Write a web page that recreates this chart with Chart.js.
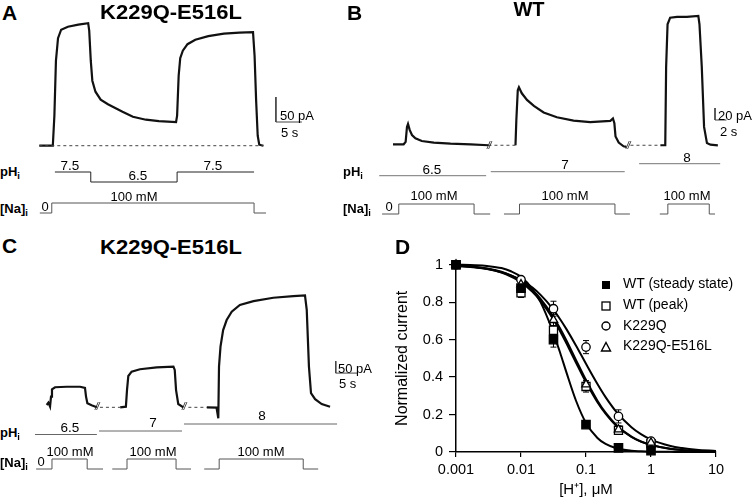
<!DOCTYPE html>
<html lang="en">
<head>
<meta charset="UTF-8">
<title>Na+ currents and intracellular pH dependence</title>
<script src="https://cdn.jsdelivr.net/npm/chart.js"></script>
<style>
  html, body { margin: 0; padding: 0; background: #fff; }
  #fig { position: relative; width: 754px; height: 499px; overflow: hidden;
         font-family: "Liberation Sans", Arial, sans-serif; color: #000; }
  #fig canvas { position: absolute; }
  .t { position: absolute; white-space: nowrap; line-height: 1; }
  .b { font-weight: bold; }
  .sub { font-size: 0.72em; position: relative; top: 0.3em; }
  .brk { font-style: italic; letter-spacing: -1px; color: #222; }
</style>
</head>
<body>
<div id="fig"></div>

<script>
  // ---- panel A: K229Q-E516L, pHi 7.5 -> 6.5 -> 7.5 (time s, current pA)
  const traceA = [[0,0],[2.6,0],[2.9,60],[3.2,170],[3.6,215],[4.2,232],[5.5,238],[7.5,242],[9.4,245],
    [9.6,230],[9.9,170],[10.2,130],[10.8,108],[11.8,92],[13.2,83],[14.5,76],[16,68],[18,58],[20.5,52],
    [23,49],[26.3,47],[26.5,60],[26.8,140],[27.1,175],[27.6,190],[28.5,203],[30,212],[32.5,219],
    [35.5,224],[38.5,226],[41.1,227],[41.4,180],[41.7,90],[42.0,20],[42.3,2],[43.1,0]];
  const baseA = [[0,0],[43.1,0]];
  const phA = [[3.0,7.5],[9.9,6.5],[26.5,7.5],[41.3,7.5]];
  const naA = [[0.1,0],[2.4,100],[41.3,0],[43.6,0]];

  // ---- panel B: WT at pHi 6.5, 7, 8
  const traceB1 = [[0,0],[1.85,0],[2.2,4],[2.43,29],[2.61,34],[2.9,24],[3.3,15.5],[3.9,10],[5.0,5.5],
    [7.1,2.7],[10,1],[13.5,0],[16.6,-1.6]];
  const traceB2 = [[21.3,-1.6],[21.45,40],[21.7,90],[21.9,95],[22.4,85],[23.3,74],[24.5,64],[26.2,53],
    [28.5,45],[31.4,39.5],[34.3,37],[37.8,39],[38.25,43],[38.5,35],[38.7,13],[39.25,3],[40.1,-3.3],[40.6,-4.4]];
  const traceB3 = [[46.5,-1.6],[47.35,-1.6],[47.5,129],[47.75,200],[48.2,211],[49.4,212.5],[51.1,212.5],
    [53.1,214],[53.3,200],[53.7,129],[54.1,29],[54.6,2],[55.2,-0.6],[56.5,-1.7]];
  const gapsB = [[[16.6,-1.6],[21.3,-1.6]], [[41.3,-1.6],[46.5,-1.6]]];
  const phB = [[[-2.4,6.5],[16.2,6.5]], [[17.0,7],[40.3,7]], [[42.8,8],[56.9,8]]];
  const naB = [[[-1.9,0],[1.0,100],[14.1,0],[16.9,0]], [[19.3,0],[22.0,100],[38.6,0],[41.2,0]],
    [[46.4,0],[47.8,100],[55.0,0],[56.0,0]]];

  // ---- panel C: K229Q-E516L at pHi 6.5, 7, 8
  const traceC1 = [[0,0],[0.38,9.7],[0.76,-6.9],[0.98,35],[1.2,65],[1.9,74],[4.55,76],[7.6,76],[8.7,71],
    [8.94,35],[9.24,7],[10.2,-1.4],[11.4,-9.7]];
  const traceC2 = [[16.7,-9.7],[18.0,-6.9],[18.25,62],[18.55,121],[19.3,139],[21.2,149],[25,157],[28.8,160],
    [29.1,146],[29.4,62],[29.9,4],[31.05,-9.7]];
  const traceC3 = [[36.4,-9.7],[38.6,-11],[39.0,-55],[39.16,160],[39.5,243],[40.1,312],[40.9,354],[42.05,389],
    [43.9,417],[47,433],[51.5,447],[56.05,454],[58.7,457],[59.1,396],[59.6,160],[60.07,49],[61,24],[62.5,4],[64.4,-7]];
  const gapsC = [[[12.1,-9.7],[16.7,-9.7]], [[32.2,-9.7],[36.4,-9.7]]];
  const phC = [[[-2.66,6.5],[11.4,6.5]], [[11.9,7],[30.75,7]], [[31.2,8],[66.0,8]]];
  const naC = [[[-2.4,0],[1.2,100],[9.2,0],[12.8,0]], [[14.9,0],[18.25,100],[29.4,0],[32.8,0]],
    [[35.8,0],[39.2,100],[58.3,0],[61.7,0]]];

  // ---- panel D: normalized current vs [H+] (uM)
  const hConc = [0.001, 0.01, 0.0316, 0.1, 0.316, 1];
  const wtSteady = [1, 0.875, 0.60, 0.146, 0.022, 0.007];
  const wtPeak = [1, 0.85, 0.65, 0.35, 0.116, 0.045];
  const k229q = [1, 0.92, 0.765, 0.56, 0.19, 0.058];
  const k229qE516l = [1, 0.895, 0.705, 0.36, 0.12, 0.05];
  const wtSteadyErr = [0, 0.02, 0.04, 0.01, 0.005, 0.003];
  const wtPeakErr = [0, 0.025, 0.04, 0.03, 0.02, 0.01];
  const k229qErr = [0, 0.01, 0.04, 0.035, 0.035, 0.01];
  const k229qE516lErr = [0, 0.02, 0.03, 0.02, 0.02, 0.01];

  const fitX = [0.001, 0.002, 0.003, 0.005, 0.007, 0.01, 0.015, 0.02, 0.03, 0.04, 0.05, 0.07, 0.1,
    0.15, 0.2, 0.3, 0.5, 0.7, 1, 2, 3, 5, 10];
  const fitSteady = [1.0, 0.997, 0.993, 0.982, 0.965, 0.935, 0.87, 0.80, 0.655, 0.53, 0.425, 0.275, 0.155,
    0.075, 0.043, 0.019, 0.007, 0.004, 0.002, 0.001, 0, 0, 0];
  const fitPeak = [0.995, 0.987, 0.978, 0.958, 0.937, 0.907, 0.855, 0.806, 0.72, 0.645, 0.58, 0.478, 0.372,
    0.266, 0.205, 0.137, 0.08, 0.055, 0.037, 0.016, 0.01, 0.006, 0.003];
  const fitK229q = [0.993, 0.985, 0.977, 0.96, 0.943, 0.918, 0.878, 0.839, 0.77, 0.709, 0.656, 0.569, 0.471,
    0.363, 0.293, 0.21, 0.132, 0.095, 0.066, 0.032, 0.021, 0.012, 0.006];
  const fitDouble = [0.995, 0.988, 0.98, 0.962, 0.943, 0.915, 0.865, 0.818, 0.733, 0.66, 0.596, 0.492, 0.384,
    0.274, 0.21, 0.14, 0.082, 0.056, 0.038, 0.017, 0.011, 0.006, 0.003];
  const xTicks = [0.001, 0.01, 0.1, 1, 10];
  const xTickLabels = ['0.001', '0.01', '0.1', '1', '10'];
  const yTicks = [0, 0.2, 0.4, 0.6, 0.8, 1];
  const yTickLabels = ['0', '0.2', '0.4', '0.6', '0.8', '1'];

  Chart.defaults.font.family = '"Liberation Sans", Arial, sans-serif';
  Chart.defaults.color = '#000';

  const fig = document.getElementById('fig');

  function text(html, x, base, size, opt = {}) {
    const el = document.createElement('div');
    el.className = 't' + (opt.bold ? ' b' : '') + (opt.cls ? ' ' + opt.cls : '');
    el.innerHTML = html;
    el.style.fontSize = size + 'px';
    el.style.left = x + 'px';
    el.style.top = (base - 0.8465 * size) + 'px';
    if (opt.center) el.style.transform = 'translateX(-50%)' + (opt.sx ? ' scaleX(' + opt.sx + ')' : '');
    fig.appendChild(el);
  }

  function addCanvas(box) {
    const c = document.createElement('canvas');
    c.width = box.right - box.left;
    c.height = box.bottom - box.top;
    c.style.left = box.left + 'px';
    c.style.top = box.top + 'px';
    fig.appendChild(c);
    return c;
  }

  // page pixel of value 0 and pixels per unit -> hidden axis with matching range
  function hAxis(m, box) {
    return { type: 'linear', display: false, min: (box.left - m.zero) / m.per, max: (box.right - m.zero) / m.per };
  }
  function vAxis(m, box) {
    return { type: 'linear', display: false, min: (m.zero - box.bottom) / m.per, max: (m.zero - box.top) / m.per };
  }

  const line = (data, yAxisID, style) => Object.assign({
    data, yAxisID, borderColor: '#111', borderWidth: 2.2, pointRadius: 0, fill: false, tension: 0, clip: false
  }, style);
  const proto = { borderColor: '#555', borderWidth: 1, stepped: 'before' };
  const dashed = { borderColor: '#444', borderWidth: 1, borderDash: [3, 3] };
  const bar = { borderColor: '#444', borderWidth: 1 };

  function scaleBar(t0, i0, pA, s) {
    return [[t0, i0 + pA], [t0, i0], [t0 + s, i0]];
  }

  function traceChart(box, xm, ym, datasets) {
    const scales = { x: hAxis(xm, box) };
    for (const id in ym) scales[id] = vAxis(ym[id], box);
    new Chart(addCanvas(box), {
      type: 'line',
      data: { datasets },
      options: {
        responsive: false, animation: false, events: [],
        layout: { padding: 0 },
        plugins: { legend: { display: false }, tooltip: { enabled: false } },
        scales
      }
    });
  }

  // ---------- A
  const boxA = { left: 28, right: 310, top: 10, bottom: 222 };
  traceChart(boxA, { zero: 39.3, per: 5.2 },
    { y: { zero: 145.7, per: 0.5 }, ph: { zero: 247, per: 10 }, na: { zero: 213, per: 0.1 } },
    [
      line(baseA, 'y', dashed),
      line(traceA, 'y'),
      line(scaleBar(45.5, 47.4, 50, 5), 'y', bar),
      line(phA, 'ph', Object.assign({}, proto, { borderColor: '#222' })),
      line(naA, 'na', proto)
    ]);

  // ---------- B
  const boxB = { left: 378, right: 745, top: 8, bottom: 222 };
  traceChart(boxB, { zero: 393, per: 5.75 },
    { y: { zero: 144.3, per: 0.6 }, ph: { zero: 227.7, per: 8 }, na: { zero: 214, per: 0.1 } },
    [
      ...gapsB.map(g => line(g, 'y', dashed)),
      line(traceB1, 'y'), line(traceB2, 'y'), line(traceB3, 'y'),
      line(scaleBar(56.0, 40.5, 20, 2), 'y', bar),
      ...phB.map(p => line(p, 'ph', Object.assign({}, proto, { borderColor: '#777' }))),
      ...naB.map(n => line(n, 'na', proto))
    ]);

  // ---------- C
  const boxC = { left: 20, right: 370, top: 280, bottom: 475 };
  traceChart(boxC, { zero: 46.7, per: 4.4 },
    { y: { zero: 405, per: 0.24 }, ph: { zero: 480, per: 7 }, na: { zero: 469, per: 0.1 } },
    [
      ...gapsC.map(g => line(g, 'y', dashed)),
      line(traceC1, 'y'), line(traceC2, 'y'), line(traceC3, 'y'),
      line(scaleBar(65.7, 133, 50, 5), 'y', bar),
      ...phC.map(p => line(p, 'ph', Object.assign({}, proto, { borderColor: '#666' }))),
      ...naC.map(n => line(n, 'na', proto))
    ]);

  // ---------- D
  const pts = (xs, ys) => xs.map((x, i) => ({ x, y: ys[i] }));
  const markers = [
    { label: 'WT (steady state)', y: wtSteady, err: wtSteadyErr, style: 'rect', r: 5.9, fill: '#000', order: 0 },
    { label: 'K229Q-E516L', y: k229qE516l, err: k229qE516lErr, style: 'triangle', r: 4.8, fill: '#fff', order: 1 },
    { label: 'K229Q', y: k229q, err: k229qErr, style: 'circle', r: 4.2, fill: '#fff', order: 2 },
    { label: 'WT (peak)', y: wtPeak, err: wtPeakErr, style: 'rect', r: 5.7, fill: '#fff', order: 3 }
  ];
  const fits = [fitSteady, fitPeak, fitK229q, fitDouble];

  const errorBars = {
    id: 'errorBars',
    beforeDatasetsDraw(chart) {
      const { ctx, scales: { x, y } } = chart;
      ctx.save();
      ctx.strokeStyle = '#000';
      ctx.lineWidth = 1;
      markers.forEach(m => {
        m.y.forEach((v, i) => {
          const e = m.err[i];
          if (!e) return;
          const px = x.getPixelForValue(hConc[i]);
          const hi = y.getPixelForValue(v + e), lo = y.getPixelForValue(v - e);
          ctx.beginPath();
          ctx.moveTo(px, hi); ctx.lineTo(px, lo);
          ctx.moveTo(px - 3, hi); ctx.lineTo(px + 3, hi);
          ctx.moveTo(px - 3, lo); ctx.lineTo(px + 3, lo);
          ctx.stroke();
        });
      });
      ctx.restore();
    }
  };

  const boxD = { left: 377, right: 754, top: 250, bottom: 499 };
  new Chart(addCanvas(boxD), {
    type: 'line',
    data: {
      datasets: [
        ...markers.map(m => ({
          label: m.label, data: pts(hConc, m.y), showLine: false, order: m.order,
          pointStyle: m.style, pointRadius: m.r, pointBackgroundColor: m.fill,
          pointBorderColor: '#000', pointBorderWidth: 1.3, clip: false
        })),
        ...fits.map(f => ({
          data: pts(fitX, f), order: 10, borderColor: '#000', borderWidth: 2,
          pointRadius: 0, cubicInterpolationMode: 'monotone', clip: false
        }))
      ]
    },
    options: {
      responsive: false, animation: false, events: [],
      layout: { padding: { left: 0, top: 13, right: 38, bottom: 0 } },
      plugins: { legend: { display: false }, tooltip: { enabled: false } },
      scales: {
        x: {
          type: 'logarithmic', min: 0.001, max: 10,
          afterBuildTicks: s => { s.ticks = xTicks.map(v => ({ value: v })); },
          afterFit: s => { s.height = 47; },
          ticks: { font: { size: 14.5 }, padding: 4, maxRotation: 0, autoSkip: false,
                   callback: (v, i) => xTickLabels[i] },
          grid: { display: true, drawOnChartArea: false, drawTicks: true, tickLength: 5, color: '#000', lineWidth: 1.2 },
          border: { display: true, color: '#000', width: 1.5 },
          title: { display: true, text: '[H\u207A], \u03BCM', font: { size: 15 }, padding: { top: 0, bottom: 0 } }
        },
        y: {
          type: 'linear', min: 0, max: 1,
          afterBuildTicks: s => { s.ticks = yTicks.map(v => ({ value: v })); },
          afterFit: s => { s.width = 79; },
          ticks: { font: { size: 14.5 }, padding: 6, callback: (v, i) => yTickLabels[i] },
          grid: { display: true, drawOnChartArea: false, drawTicks: true, tickLength: 7, color: '#000', lineWidth: 1.2 },
          border: { display: true, color: '#000', width: 1.5 },
          title: { display: true, text: 'Normalized current', font: { size: 16 }, padding: { top: 16, bottom: 0 } }
        }
      }
    },
    plugins: [errorBars]
  });

  // ---------- texts
  const pHi = 'pH<span class="sub">i</span>';
  const nai = '[Na]<span class="sub">i</span>';

  text('A', 2, 20, 21, { bold: true });
  text('K229Q-E516L', 171, 19, 20, { bold: true, center: true, sx: 1.1 });
  text('50 pA', 280, 120, 13);
  text('5 s', 281, 137, 13);
  text(pHi, 0, 176, 13, { bold: true });
  text(nai, 0, 213, 13, { bold: true });
  text('7.5', 70, 170, 13.5, { center: true });
  text('6.5', 138, 180, 13.5, { center: true });
  text('7.5', 213, 170, 13.5, { center: true });
  text('0', 45, 211, 13, { center: true });
  text('100 mM', 134, 201, 13, { center: true });

  text('B', 347, 20, 21, { bold: true });
  text('WT', 529, 16, 20, { bold: true, center: true });
  text('20 pA', 718, 120, 13);
  text('2 s', 720, 136, 13);
  text(pHi, 343, 176, 13, { bold: true });
  text(nai, 343, 213, 13, { bold: true });
  text('6.5', 432, 174, 13.5, { center: true });
  text('7', 565, 169, 13.5, { center: true });
  text('8', 687, 162, 13.5, { center: true });
  text('0', 389, 211, 13, { center: true });
  text('100 mM', 434, 200, 13, { center: true });
  text('100 mM', 565, 200, 13, { center: true });
  text('100 mM', 687, 200, 13, { center: true });
  text('//', 487, 149, 10, { cls: 'brk' });
  text('//', 626, 149, 10, { cls: 'brk' });

  text('C', 2, 253, 21, { bold: true });
  text('K229Q-E516L', 171, 254, 20, { bold: true, center: true, sx: 1.1 });
  text('50 pA', 338, 373, 13);
  text('5 s', 339, 388, 13);
  text(pHi, 0, 437, 13, { bold: true });
  text(nai, 0, 467, 13, { bold: true });
  text('6.5', 70, 432, 13.5, { center: true });
  text('7', 153, 427, 13.5, { center: true });
  text('8', 262, 420, 13.5, { center: true });
  text('0', 41, 466, 13, { center: true });
  text('100 mM', 70, 456, 13, { center: true });
  text('100 mM', 153, 456, 13, { center: true });
  text('100 mM', 261, 456, 13, { center: true });
  text('//', 95, 410, 10, { cls: 'brk' });
  text('//', 182, 410, 10, { cls: 'brk' });

  text('D', 395, 254, 21, { bold: true });

  // legend for D
  const legendIcons = [
    '<rect x="2" y="2" width="8" height="8" fill="#000"/>',
    '<rect x="2" y="2" width="8" height="8" fill="#fff" stroke="#000" stroke-width="1.3"/>',
    '<circle cx="6" cy="6" r="4" fill="#fff" stroke="#000" stroke-width="1.4"/>',
    '<polygon points="6,1.5 10.5,10 1.5,10" fill="#fff" stroke="#000" stroke-width="1.4"/>'
  ];
  const legendLabels = ['WT (steady state)', 'WT (peak)', 'K229Q', 'K229Q-E516L'];
  legendLabels.forEach((lab, i) => {
    const cy = 283 + i * 20.7;
    const icon = document.createElement('div');
    icon.style.cssText = 'position:absolute;left:600px;top:' + (cy - 6) + 'px;width:12px;height:12px;';
    icon.innerHTML = '<svg width="12" height="12" viewBox="0 0 12 12">' + legendIcons[i] + '</svg>';
    fig.appendChild(icon);
    text(lab, 623, cy + 5, 14);
  });
</script>
</body>
</html>
